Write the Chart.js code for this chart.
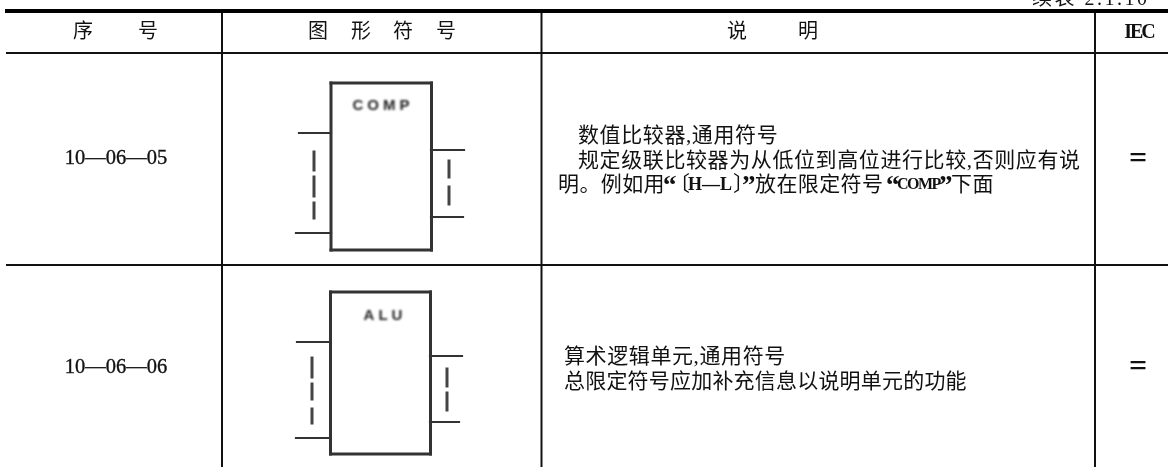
<!DOCTYPE html>
<html>
<head>
<meta charset="utf-8">
<style>
  html, body { margin: 0; padding: 0; background: #fff; }
  canvas { display: block; }
</style>
<script src="https://cdn.jsdelivr.net/npm/chart.js@4"></script>
</head>
<body>
<canvas id="chart" width="1168" height="467"></canvas>
<script>
// table rules, [x1, y1, x2, y2] in page units
const topRule = [[7, 11, 1168, 11]];
const rowRules = [[7, 53, 1168, 53], [7, 265, 1168, 265]];
const colRules = [[222, 11, 222, 467], [541.5, 11, 541.5, 467], [1095, 11, 1095, 467]];

// the two block symbols
const compBox = [[331, 83, 431.5, 83], [431.5, 83, 431.5, 250], [431.5, 250, 331, 250], [331, 250, 331, 83]];
const compPins = [[299, 133, 331, 133], [296, 233, 331, 233], [431, 150, 464, 150], [431, 217, 463, 217]];
const compDashes = [[314, 152, 314, 170], [314, 177, 314, 196], [314, 203, 314, 218], [449, 161, 449, 177], [449, 187, 449, 204]];
const aluBox = [[330.5, 292, 430.5, 292], [430.5, 292, 430.5, 454], [430.5, 454, 330.5, 454], [330.5, 454, 330.5, 292]];
const aluPins = [[297, 342, 330, 342], [296, 438, 330, 438], [430, 356, 462, 356], [430, 422, 459, 422]];
const aluDashes = [[312, 358, 312, 377], [312, 384, 312, 399], [312, 409, 312, 423], [447, 369, 447, 386], [447, 393, 447, 410]];

// text
const headers = ['序', '号', '图', '形', '符', '号', '说', '明'];
const headerX = [83, 148, 318, 361, 403, 446, 737, 808];
const serials = ['10—06—05', '10—06—06'];
const serialY = [159, 368];
const notesOne = ['数值比较器,通用符号', '规定级联比较器为从低位到高位进行比较,否则应有说'];
const notesOneY = [136, 161];
// third line mixes type, so it is set piece by piece
const notesThird = ['明。例如用', '“', '〔', 'H—L', '〕', '”', '放在限定符号', '“', 'COMP', '”', '下面'];
const notesThirdX = [558, 663, 669, 688, 733, 742, 755, 886, 897, 939, 951];
const notesThirdY = 185;
const notesTwo = ['算术逻辑单元,通用符号', '总限定符号应加补充信息以说明单元的功能'];
const notesTwoY = [357, 382];
const sameMark = '=';
const sameY = [160, 368];

const CJK = '"Liberation Serif", "Noto Sans CJK SC", serif';

function toDatasets(segs, width, color, blurred) {
  return segs.map(s => ({
    data: [{ x: s[0], y: s[1] }, { x: s[2], y: s[3] }],
    showLine: true,
    borderColor: color,
    borderWidth: width,
    borderCapStyle: 'square',
    pointRadius: 0,
    blurred: blurred
  }));
}

const datasets = [
  ...toDatasets(topRule, 4, '#000', false),
  ...toDatasets(rowRules, 2, '#111', false),
  ...toDatasets(colRules, 2, '#111', false),
  ...toDatasets(compBox, 3, '#333', true),
  ...toDatasets(compPins, 2.2, '#333', true),
  ...toDatasets(compDashes, 3, '#444', true),
  ...toDatasets(aluBox, 3, '#333', true),
  ...toDatasets(aluPins, 2.2, '#333', true),
  ...toDatasets(aluDashes, 3, '#444', true)
];

// table text is drawn at scale positions after the lines
const tableText = {
  id: 'tableText',
  beforeDatasetDraw(chart, args) {
    if (args.meta._dataset.blurred) {
      chart.ctx.save();
      chart.ctx.filter = 'blur(0.6px)';
    }
  },
  afterDatasetDraw(chart, args) {
    if (args.meta._dataset.blurred) chart.ctx.restore();
  },
  afterDatasetsDraw(chart) {
    const { ctx, scales } = chart;
    const put = (str, x, y, font, align, spacing, heavy) => {
      const px = scales.x.getPixelForValue(x);
      const py = scales.y.getPixelForValue(y);
      ctx.font = font;
      ctx.textAlign = align;
      ctx.letterSpacing = (spacing || 0) + 'px';
      ctx.fillText(str, px, py);
      if (heavy) {
        ctx.lineWidth = heavy;
        ctx.strokeText(str, px, py);
      }
    };
    ctx.save();
    ctx.fillStyle = '#111';
    ctx.strokeStyle = '#111';
    ctx.textBaseline = 'middle';
    headers.forEach((h, i) => put(h, headerX[i], 33, '20px ' + CJK, 'center'));
    put('IEC', 1139, 33, 'bold 20px "Liberation Serif"', 'center', -2);
    serials.forEach((s, i) => put(s, 116, serialY[i], '20.5px "Liberation Serif"', 'center', 0, 0.35));

    put(notesOne[0], 578, notesOneY[0], '21px ' + CJK, 'left', 0.6);
    put(notesOne[1], 578, notesOneY[1], '21px ' + CJK, 'left', 0.6);
    notesThird.forEach((s, i) => {
      const x = notesThirdX[i];
      if (s === '“' || s === '”') put(s, x, notesThirdY + 2, 'bold 27px "Liberation Serif"', 'left');
      else if (s === 'H—L') put(s, x, notesThirdY, 'bold 18px "Liberation Serif"', 'left', 0);
      else if (s === 'COMP') put(s, x, notesThirdY, 'bold 16px "Liberation Serif"', 'left', -1.5);
      else put(s, x, notesThirdY, '21px ' + CJK, 'left', 0.4);
    });
    put(notesTwo[0], 564, notesTwoY[0], '21px ' + CJK, 'left', 0.6);
    put(notesTwo[1], 564, notesTwoY[1], '21px ' + CJK, 'left', 0.2);
    sameY.forEach(y => put(sameMark, 1138, y, 'bold 32px "Liberation Serif"', 'center'));

    ctx.textBaseline = 'alphabetic';
    put('续表 2.1.10', 1032, 5, '20px ' + CJK, 'left', 2.5);

    ctx.textBaseline = 'middle';
    ctx.filter = 'blur(0.8px)';
    ctx.fillStyle = '#222';
    put('COMP', 383, 105.5, 'bold 15px "Liberation Sans"', 'center', 4);
    put('ALU', 385, 316, 'bold 15px "Liberation Sans"', 'center', 4);
    ctx.restore();
  }
};

new Chart(document.getElementById('chart'), {
  type: 'scatter',
  data: { datasets: datasets },
  options: {
    responsive: false,
    animation: false,
    layout: { padding: 0 },
    plugins: { legend: { display: false }, tooltip: { enabled: false } },
    scales: {
      x: { type: 'linear', min: 0, max: 1168, display: false },
      y: { type: 'linear', min: 0, max: 467, reverse: true, display: false }
    }
  },
  plugins: [tableText]
});
</script>
</body>
</html>
